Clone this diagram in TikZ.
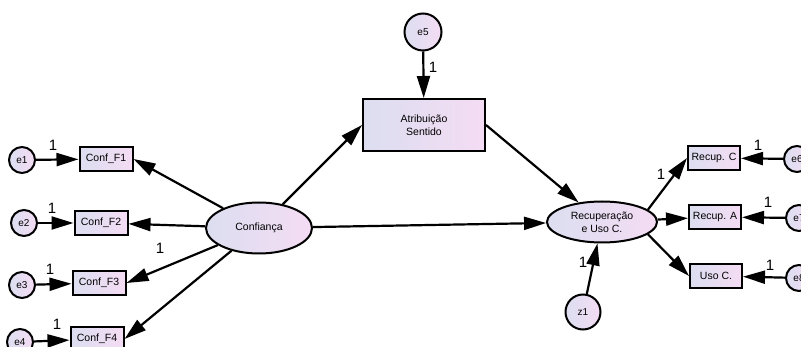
\documentclass[tikz,border=0pt]{standalone}
\usepackage{fontspec}
\setmainfont{Liberation Sans}
\usetikzlibrary{arrows.meta,shapes.geometric}
\definecolor{fillL}{RGB}{220,222,240}
\definecolor{fillR}{RGB}{244,220,244}
\tikzset{
  base/.style={draw=black, line width=2pt, left color=fillL, right color=fillR, inner sep=0pt},
  obs/.style={base, rectangle, minimum width=53pt, minimum height=24pt, font=\fontsize{10.5}{13}\selectfont},
  lat/.style={base, ellipse, minimum width=106pt, minimum height=51pt, font=\fontsize{10.5}{13}\selectfont, align=center},
  err/.style={base, circle, minimum size=26pt, font=\fontsize{10}{11}\selectfont},
  errb/.style={base, circle, minimum size=37pt, font=\fontsize{10}{11}\selectfont},
  conn/.style={line width=2.2pt, -{Triangle[length=22pt,width=13pt]}},
  one/.style={font=\fontsize{15}{15}\selectfont, inner sep=0pt}
}
\begin{document}
\begin{tikzpicture}[x=1pt,y=-1pt]
\useasboundingbox (0,0) rectangle (801,347);
% error terms left
\node[err] (e1) at (22,160) {e1};
\node[err] (e2) at (24,223) {e2};
\node[err] (e3) at (22,285) {e3};
\node[err] (e4) at (20,342) {e4};
% observed left
\node[obs] (cf1) at (106,159) {Conf\_F1};
\node[obs] (cf2) at (101,223) {Conf\_F2};
\node[obs] (cf3) at (99,283) {Conf\_F3};
\node[obs] (cf4) at (97,339) {Conf\_F4};
% latent
\node[lat] (conf) at (259,228) {Confiança};
\node[lat, minimum width=110pt, minimum height=41pt] (rec) at (602,222) {Recuperação\\e Uso C.};
% mediator
\node[obs, minimum width=122pt, minimum height=52pt, align=center] (atr) at (424,125) {Atribuição\\Sentido};
\node[errb] (e5) at (423,32) {e5};
\node[errb, minimum size=35pt] (z1) at (583,312) {z1};
% observed right
\node[obs, minimum width=52pt] (rc) at (714,158) {Recup. C};
\node[obs, minimum width=52pt] (ra) at (715,217) {Recup. A};
\node[obs, minimum width=52pt] (uc) at (716,276) {Uso C.};
\node[err] (e6) at (797,159) {e6};
\node[err] (e7) at (799,218) {e7};
\node[err] (e8) at (799,278) {e8};
% connectors
\draw[conn] (e1) -- (cf1);
\draw[conn] (e2) -- (cf2);
\draw[conn] (e3) -- (cf3);
\draw[conn] (e4) -- (cf4);
\draw[conn] (conf) -- (cf1.east);
\draw[conn] (conf) -- (cf2);
\draw[conn] (conf) -- (cf3.east);
\draw[conn] (conf) -- (cf4.east);
\draw[conn] (conf) -- (atr.west);
\draw[conn] (atr.east) -- (rec);
\draw[conn] (conf) -- (rec);
\draw[conn] (e5) -- (atr);
\draw[conn] (z1) -- (rec);
\draw[conn] (rec.15) -- (rc.west);
\draw[conn] (rec) -- (ra);
\draw[conn] (rec.-15) -- (uc.west);
\draw[conn] (e6) -- (rc);
\draw[conn] (e7) -- (ra);
\draw[conn] (e8) -- (uc);
% labels
\node[one] (l1) at (53,145) {1};
\node[one] (l2) at (52,208) {1};
\node[one] (l3) at (50,269) {1};
\node[one] (l4) at (57,324) {1};
\node[one] (l5) at (160,248) {1};
\node[one] (l6) at (433,67) {1};
\node[one] (l7) at (661,174) {1};
\node[one] (l8) at (583,262) {1};
\node[one] (l9) at (758,145) {1};
\node[one] (l10) at (768,202) {1};
\node[one] (l11) at (770,265) {1};
\end{tikzpicture}
\end{document}
